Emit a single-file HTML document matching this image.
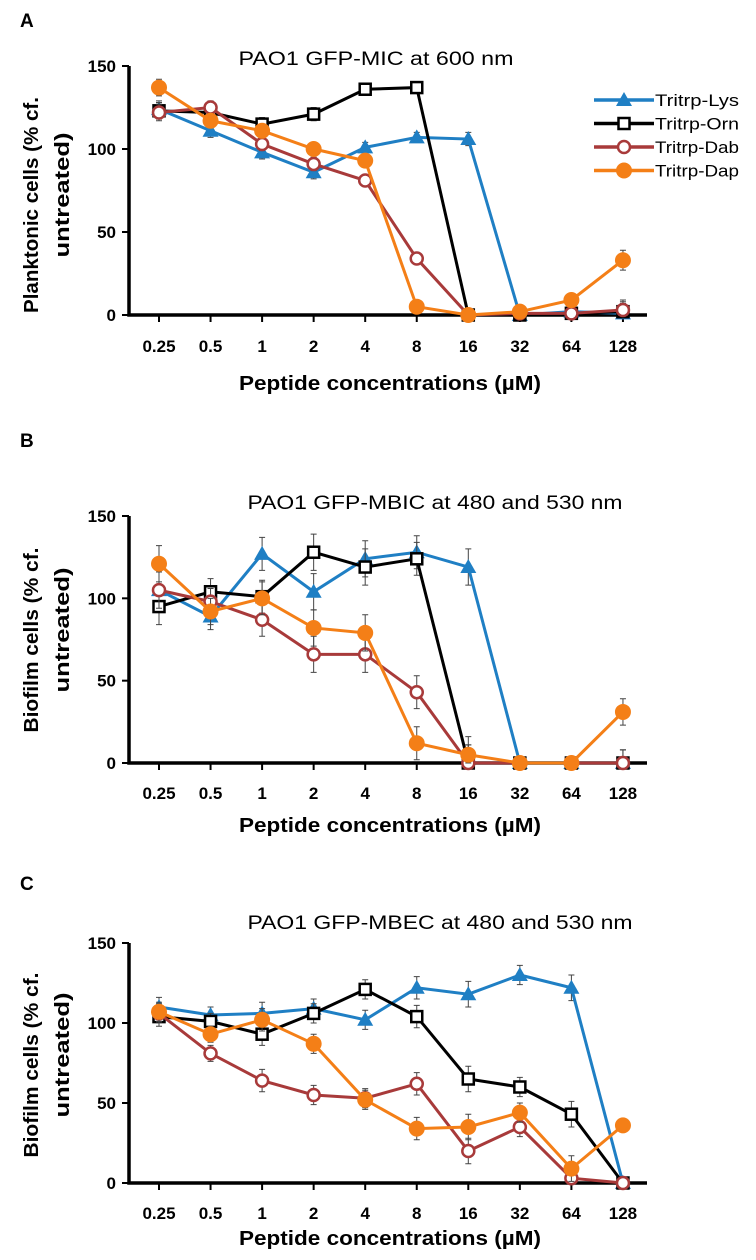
<!DOCTYPE html>
<html><head><meta charset="utf-8"><style>
body{margin:0;background:#fff;}
svg{display:block;font-family:"Liberation Sans",sans-serif;}
</style></head><body>
<svg id="fig" width="756" height="1260"></svg>
<script>
const categories=["0.25","0.5","1","2","4","8","16","32","64","128"];
const yTicks=[0,50,100,150];
const seriesNames=["Tritrp-Lys","Tritrp-Orn","Tritrp-Dab","Tritrp-Dap"];
const aLys=[124,111,98,86,101,107,106,0,2,1];
const aOrn=[123,122,115,121,136,137,0,0,1,2];
const aDab=[122,125,103,91,81,34,0,1,1,3];
const aDap=[137,117,111,100,93,5,0,2,9,33];
const aErr=[5,4,4,4,3,3,4,2,2,6];
const bLys=[105,89,127,104,124,128,119,0,0,0];
const bOrn=[95,104,101,128,119,124,0,0,0,0];
const bDab=[105,98,87,66,66,43,0,0,0,0];
const bDap=[121,92,100,82,79,12,5,0,0,31];
const bErr=[11,8,10,11,11,10,11,1,1,8];
const cLys=[110,105,106,109,102,122,118,130,122,0];
const cOrn=[104,101,93,106,121,104,65,60,43,0];
const cDab=[106,81,64,55,53,62,20,35,3,0];
const cDap=[107,93,102,87,52,34,35,44,9,36];
const cErr=[6,5,7,6,6,7,8,6,8,2];

const NS="http://www.w3.org/2000/svg";
const svg=document.getElementById('fig');
function mk(tag,attrs,parent){const e=document.createElementNS(NS,tag);for(const k in attrs)e.setAttribute(k,attrs[k]);(parent||svg).appendChild(e);return e;}
const colors=["#1f7fc4","#000000","#a83a3a","#f47f17"];
const markers=["tri","sq","circ","dot"];
function marker(g,type,x,y,c){
  let m;
  if(type==="tri"){m=mk('polygon',{points:`${x},${y-8} ${x-8},${y+6} ${x+8},${y+6}`,fill:c},g);}
  else if(type==="sq"){m=mk('rect',{x:x-5.5,y:y-5.5,width:11,height:11,fill:'#fff',stroke:c,'stroke-width':2.5},g);}
  else if(type==="circ"){m=mk('circle',{cx:x,cy:y,r:6,fill:'#fff',stroke:c,'stroke-width':2.5},g);}
  else {m=mk('circle',{cx:x,cy:y,r:8,fill:c},g);}
  
  
}
function panel(opt){
  const g=mk('g',{});
  
  
  const X0=159,dx=51.55;
  const xs=i=>X0+i*dx;
  const ys=v=>opt.y0-(v/150)*(opt.y0-opt.y150);
  const lab=mk('text',{x:20,y:opt.labY+7,'font-size':19,'font-weight':'bold'},g);lab.textContent=opt.id;
  
  const t=mk('text',{x:opt.titleX,y:opt.titleY+7,'font-size':19,'text-anchor':'middle',textLength:opt.titleW,lengthAdjust:'spacingAndGlyphs'},g);t.textContent=opt.title;
  
  const ax=mk('path',{d:`M129,${opt.y150}V${opt.y0}H647`,stroke:'#000','stroke-width':3.5,fill:'none'},g);
  
  yTicks.forEach(v=>{
    mk('line',{x1:122,x2:129,y1:ys(v),y2:ys(v),stroke:'#000','stroke-width':2},g);
    const tt=mk('text',{x:116,y:ys(v)+6,'font-size':17,'font-weight':'bold','text-anchor':'end'},g);tt.textContent=v;
    
  });
  categories.forEach((c,i)=>{
    mk('line',{x1:xs(i),x2:xs(i),y1:opt.y0,y2:opt.y0+7,stroke:'#000','stroke-width':2},g);
    const tt=mk('text',{x:xs(i),y:opt.tickY+7,'font-size':17,'font-weight':'bold','text-anchor':'middle'},g);tt.textContent=c;
    
  });
  const xt=mk('text',{x:390,y:opt.xlabY+7,'font-size':20,'font-weight':'bold','text-anchor':'middle',textLength:302,lengthAdjust:'spacingAndGlyphs'},g);xt.textContent="Peptide concentrations (µM)";
  
  const yt=mk('text',{transform:`translate(38,${opt.ylabC}) rotate(-90)`,'font-size':20,'font-weight':'bold','text-anchor':'middle',textLength:opt.ylabW,lengthAdjust:'spacingAndGlyphs'},g);yt.textContent=opt.ylab;
  
  const yt2=mk('text',{transform:`translate(69,${opt.ylabC-10}) rotate(-90)`,'font-size':20,'font-weight':'bold','text-anchor':'middle',textLength:125,lengthAdjust:'spacingAndGlyphs'},g);yt2.textContent="untreated)";
  
  opt.data.forEach((d,s)=>{
    const sg=mk('g',{},g);
    
    
    d.forEach((v,i)=>{
      const e=opt.err[i];
      mk('path',{d:`M${xs(i)},${ys(v+e)}V${ys(Math.max(0,v-e))}M${xs(i)-3},${ys(v+e)}h6M${xs(i)-3},${ys(Math.max(0,v-e))}h6`,stroke:'#444','stroke-width':1},sg);
    });
    const pl=mk('polyline',{points:d.map((v,i)=>xs(i)+','+ys(v)).join(' '),fill:'none',stroke:colors[s],'stroke-width':3},sg);
    
    d.forEach((v,i)=>marker(sg,markers[s],xs(i),ys(v),colors[s]));
  });
  if(opt.legend){
    const lg=mk('g',{},g);
    seriesNames.forEach((n,s)=>{
      const y=100+s*23.5;
      mk('line',{x1:594,x2:654,y1:y,y2:y,stroke:colors[s],'stroke-width':3.5},lg);
      marker(lg,markers[s],624,y,colors[s]);
      const lt=mk('text',{x:655,y:y+6,'font-size':17,textLength:84,lengthAdjust:'spacingAndGlyphs'},lg);lt.textContent=n;
      
    });
  }
}
panel({id:"A",labY:20,title:"PAO1 GFP-MIC at 600 nm",titleX:376,titleY:58,titleW:275,y150:66,y0:315,tickY:345,xlabY:383,ylab:"Planktonic cells (% cf.",ylabC:205,ylabW:216,data:[aLys,aOrn,aDab,aDap],err:aErr,legend:true});
panel({id:"B",labY:440,title:"PAO1 GFP-MBIC at 480 and 530 nm",titleX:435,titleY:502,titleW:375,y150:516,y0:763,tickY:792,xlabY:825,ylab:"Biofilm cells (% cf.",ylabC:640,ylabW:185,data:[bLys,bOrn,bDab,bDap],err:bErr});
panel({id:"C",labY:883,title:"PAO1 GFP-MBEC at 480  and 530 nm",titleX:440,titleY:922,titleW:385,y150:943,y0:1183,tickY:1212,xlabY:1238,ylab:"Biofilm cells (% cf.",ylabC:1065,ylabW:185,data:[cLys,cOrn,cDab,cDap],err:cErr});
</script>
</body></html>
